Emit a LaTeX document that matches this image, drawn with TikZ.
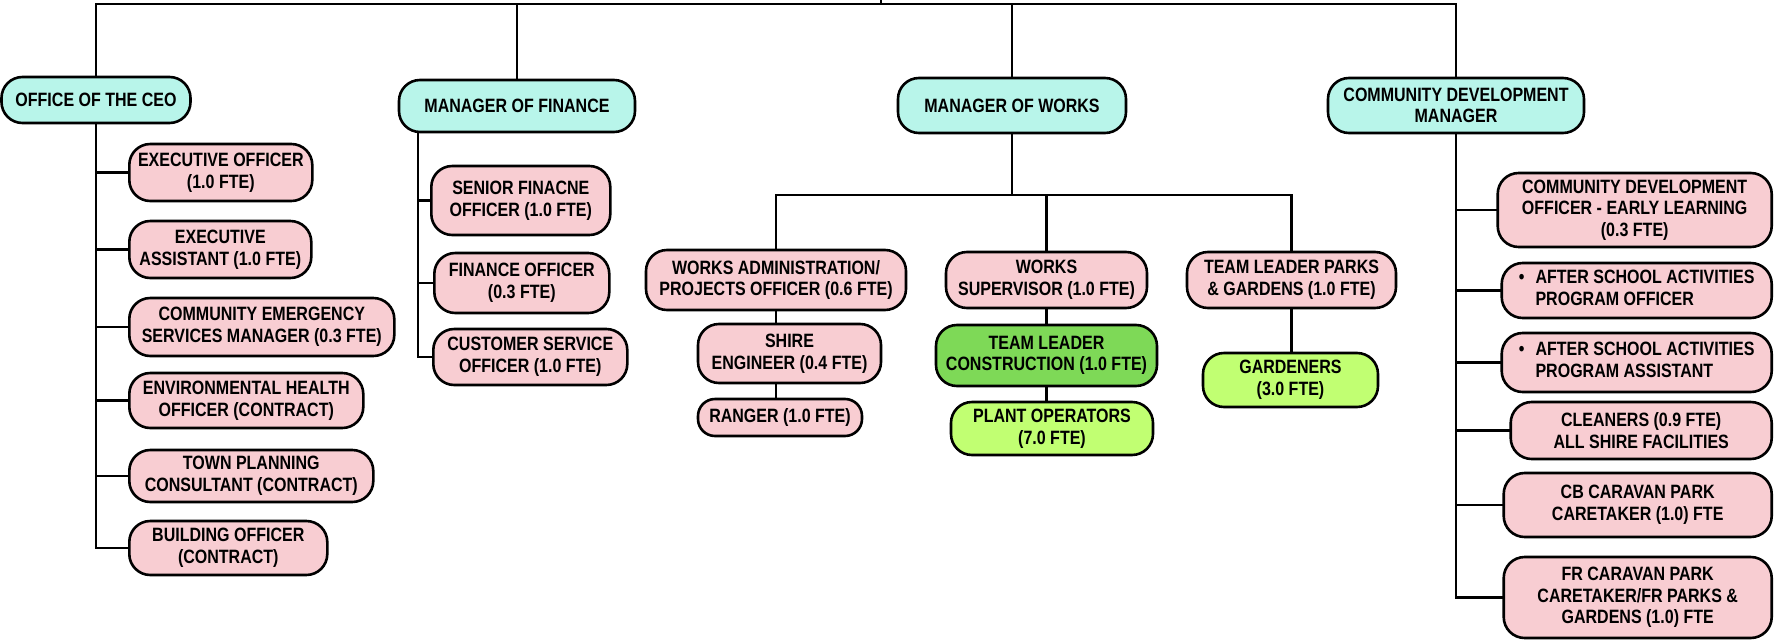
\documentclass[tikz,border=0pt]{standalone}
\usepackage{fontspec}
\setmainfont{Liberation Sans}[FakeStretch=0.83]
\usepackage{tikz}
\usetikzlibrary{
    calc % for the odd corner point
}

\definecolor{headcyan}{HTML}{B8F5EA}
\definecolor{rolepink}{HTML}{F8CDD2}
\definecolor{leadgreen}{HTML}{7ED957}
\definecolor{crewgreen}{HTML}{C1FF72}
\newcommand\boxfont{\fontsize{19.3}{21.7}\selectfont\bfseries}

\begin{document}
\begin{tikzpicture}[
    x=1pt,y=-1pt,
    box/.style   = {draw=black,line width=2.6pt,rounded corners=21pt,align=center,
                    inner sep=2pt,font=\boxfont,text=black},
    head/.style  = {box,fill=headcyan},
    role/.style  = {box,fill=rolepink},
    lead/.style  = {box,fill=leadgreen},
    crew/.style  = {box,fill=crewgreen},
    link/.style  = {line width=2.8pt,line cap=rect}
]
\useasboundingbox (0,0) rectangle (1775,640);

% managers

    \node [head,minimum width=189pt,minimum height=46pt] (ceo)   at (96,100)     {OFFICE OF THE CEO};
    \node [head,minimum width=236pt,minimum height=52pt] (fin)   at (517,106)    {MANAGER OF FINANCE};
    \node [head,minimum width=228pt,minimum height=55pt] (works) at (1012,105.5) {MANAGER OF WORKS};
    \node [head,minimum width=256pt,minimum height=55pt] (cdm)   at (1456,105.5) {COMMUNITY DEVELOPMENT\\MANAGER};

    \coordinate (root) at (881,0);
    \coordinate (bus)  at (881,4);
    \draw [link] (root) -- (bus);
    \draw [link] (ceo.north) |- (bus) -| (cdm.north);
    \draw [link] (fin.north) -- (fin.north |- bus);
    \draw [link] (works.north) -- (works.north |- bus);

% office of the CEO (left)

    \node [role,anchor=west,minimum width=183pt,minimum height=57pt] (eo)  at (128,172.5) {EXECUTIVE OFFICER\\(1.0 FTE)};
    \node [role,anchor=west,minimum width=182pt,minimum height=57pt] (ea)  at (128,249.5) {EXECUTIVE\\ASSISTANT (1.0 FTE)};
    \node [role,anchor=west,minimum width=265pt,minimum height=58pt] (ces) at (128,327)   {COMMUNITY EMERGENCY\\SERVICES MANAGER (0.3 FTE)};
    \node [role,anchor=west,minimum width=234pt,minimum height=55pt] (eho) at (128,400.5) {ENVIRONMENTAL HEALTH\\OFFICER (CONTRACT)};
    \node [role,anchor=west,minimum width=244pt,minimum height=52pt] (tpc) at (128,476)   {TOWN PLANNING\\CONSULTANT (CONTRACT)};
    \node [role,anchor=west,minimum width=198pt,minimum height=54pt] (bo)  at (128,548)   {BUILDING OFFICER\\(CONTRACT)};

    \draw [link] (ceo.south) |- (eo.west);
    \draw [link] (ceo.south) |- (ea.west);
    \draw [link] (ceo.south) |- (ces.west);
    \draw [link] (ceo.south) |- (eho.west);
    \draw [link] (ceo.south) |- (tpc.west);
    \draw [link] (ceo.south) |- (bo.west);

% finance

    \node [role,anchor=west,minimum width=179pt,minimum height=69pt] (sfo) at (430,200.5) {SENIOR FINACNE\\OFFICER (1.0 FTE)};
    \node [role,anchor=west,minimum width=175pt,minimum height=60pt] (fo)  at (433,283)   {FINANCE OFFICER\\(0.3 FTE)};
    \node [role,anchor=west,minimum width=194pt,minimum height=56pt] (cso) at (432,357)   {CUSTOMER SERVICE\\OFFICER (1.0 FTE)};

    \coordinate (finbus) at (418,0);
    \draw [link] (fin.south -| finbus) |- (sfo.west);
    \draw [link] (fin.south -| finbus) |- (fo.west);
    \draw [link] (fin.south -| finbus) |- (cso.west);

% works

    \node [role,minimum width=260pt,minimum height=60pt] (wa)  at (776,280)    {WORKS ADMINISTRATION/\\PROJECTS OFFICER (0.6 FTE)};
    \node [role,minimum width=201pt,minimum height=56pt] (ws)  at (1046.5,280) {WORKS\\SUPERVISOR (1.0 FTE)};
    \node [role,minimum width=209pt,minimum height=56pt] (tlp) at (1291.5,280) {TEAM LEADER PARKS\\\& GARDENS (1.0 FTE)};
    \node [role,minimum width=183pt,minimum height=59pt] (se)  at (789.5,353.5) {SHIRE\\ENGINEER (0.4 FTE)};
    \node [role,rounded corners=17pt,minimum width=164pt,minimum height=37pt] (rg) at (780,417.5) {RANGER (1.0 FTE)};
    \node [lead,minimum width=221pt,minimum height=61pt] (tlc) at (1046.5,355.5) {TEAM LEADER\\CONSTRUCTION (1.0 FTE)};
    \node [crew,minimum width=202pt,minimum height=53pt] (po)  at (1052,428.5)  {PLANT OPERATORS\\(7.0 FTE)};
    \node [crew,minimum width=175pt,minimum height=54pt] (gd)  at (1290.5,380)  {GARDENERS\\(3.0 FTE)};

    \coordinate (worksbus) at (0,195);
    \draw [link] (works.south) -- (works.south |- worksbus);
    \draw [link] (wa.north) |- (worksbus -| tlp.north) -- (tlp.north);
    \draw [link] (ws.north) -- (ws.north |- worksbus);
    \draw [link] (wa.south) -- (wa.south |- se.north);
    \draw [link] (se.south -| wa.south) -- (rg.north -| wa.south);
    \draw [link] (ws.south) -- (ws.south |- tlc.north);
    \draw [link] (tlc.south) -- (tlc.south |- po.north);
    \draw [link] (tlp.south) -- (tlp.south |- gd.north);

% community development (right)

    \node [role,anchor=east,minimum width=274pt,minimum height=74pt] (cdo) at (1773,210)   {COMMUNITY DEVELOPMENT\\OFFICER - EARLY LEARNING\\(0.3 FTE)};
    \node [role,anchor=east,minimum width=270pt,minimum height=55pt] (aso) at (1773,290.5)
        {\begin{tabular}{@{}l@{\hspace{11pt}}l@{}}\textbullet & AFTER SCHOOL ACTIVITIES\\ & PROGRAM OFFICER\end{tabular}};
    \node [role,anchor=east,minimum width=270pt,minimum height=59pt] (asa) at (1773,362.5)
        {\begin{tabular}{@{}l@{\hspace{11pt}}l@{}}\textbullet & AFTER SCHOOL ACTIVITIES\\ & PROGRAM ASSISTANT\end{tabular}};
    \node [role,anchor=east,minimum width=261pt,minimum height=57pt] (cl)  at (1773,430.5) {CLEANERS (0.9 FTE)\\ALL SHIRE FACILITIES};
    \node [role,anchor=east,minimum width=268pt,minimum height=64pt] (cb)  at (1773,505)   {CB CARAVAN PARK\\CARETAKER (1.0) FTE};
    \node [role,anchor=east,minimum width=268pt,minimum height=81pt] (fr)  at (1773,597.5) {FR CARAVAN PARK\\CARETAKER/FR PARKS \&\\GARDENS (1.0) FTE};

    \draw [link] (cdm.south) |- (cdo.west);
    \draw [link] (cdm.south) |- (aso.west);
    \draw [link] (cdm.south) |- (asa.west);
    \draw [link] (cdm.south) |- (cl.west);
    \draw [link] (cdm.south) |- (cb.west);
    \draw [link] (cdm.south) |- (fr.west);

\end{tikzpicture}
\end{document}
